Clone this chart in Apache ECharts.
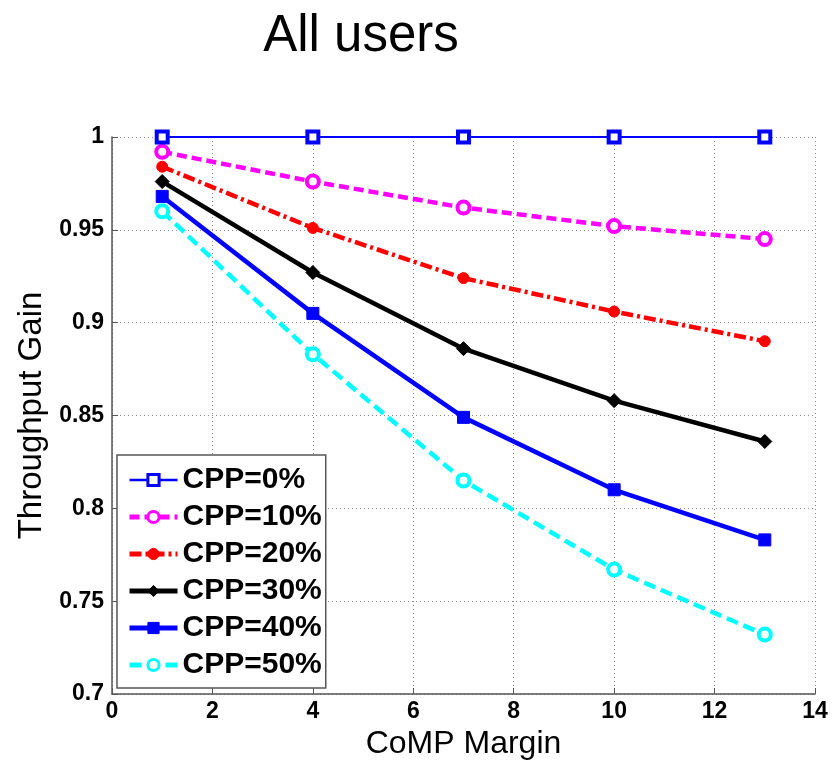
<!DOCTYPE html>
<html>
<head>
<meta charset="utf-8">
<script src="https://cdn.jsdelivr.net/npm/echarts@6/dist/echarts.min.js"></script>
<style>
  html, body { margin: 0; padding: 0; background: #fff; }
  #main { width: 832px; height: 765px; }
</style>
</head>
<body>
<div id="main"></div>
<script>
// CoMP margin values on x
var margins = [1, 4, 7, 10, 13];
var seriesNames = ['CPP=0%', 'CPP=10%', 'CPP=20%', 'CPP=30%', 'CPP=40%', 'CPP=50%'];
var cpp0  = [1.000, 1.000, 1.000, 1.000, 1.000];
var cpp10 = [0.992, 0.976, 0.962, 0.952, 0.945];
var cpp20 = [0.984, 0.951, 0.924, 0.906, 0.890];
var cpp30 = [0.976, 0.927, 0.886, 0.858, 0.836];
var cpp40 = [0.968, 0.905, 0.849, 0.810, 0.783];
var cpp50 = [0.960, 0.883, 0.815, 0.767, 0.732];

var dom = document.getElementById('main');
var myChart = echarts.init(dom);

function pairs(vals) {
    return margins.map(function (m, i) { return [m, vals[i]]; });
}

// styles per line: colour, dash, marker
var styles = [
    { color: '#0000ff', width: 2,   type: 'solid',        symbol: 'rect',    size: 11, fill: '#ffffff', bw: 4 },
    { color: '#ff00ff', width: 4.5, type: [10, 5],        symbol: 'circle',  size: 12, fill: '#ffffff', bw: 4 },
    { color: '#ff0000', width: 4.5, type: [12, 4, 3, 4],  symbol: 'circle',  size: 11, fill: '#ff0000', bw: 1 },
    { color: '#000000', width: 4.5, type: 'solid',        symbol: 'diamond', size: 14, fill: '#000000', bw: 1 },
    { color: '#0000ff', width: 4.5, type: 'solid',        symbol: 'rect',    size: 12, fill: '#0000ff', bw: 1 },
    { color: '#00ffff', width: 4.5, type: [12, 6],        symbol: 'circle',  size: 12, fill: '#ffffff', bw: 4 }
];
var allVals = [cpp0, cpp10, cpp20, cpp30, cpp40, cpp50];

var series = allVals.map(function (vals, i) {
    var s = styles[i];
    return {
        name: seriesNames[i],
        type: 'line',
        data: pairs(vals),
        symbol: s.symbol,
        symbolSize: s.size,
        showAllSymbol: true,
        lineStyle: { color: s.color, width: s.width, type: s.type },
        itemStyle: { color: s.fill, borderColor: s.color, borderWidth: s.bw },
        emphasis: { disabled: true },
        z: 10 - i
    };
});

var legendData = seriesNames.map(function (n, i) {
    var s = styles[i];
    return {
        name: n,
        lineStyle: { color: s.color, width: s.width + 0.5, type: s.type },
        itemStyle: { color: s.fill, borderColor: s.color, borderWidth: Math.min(s.bw, 3) }
    };
});

var option = {
    animation: false,
    backgroundColor: '#ffffff',
    title: {
        text: 'All users',
        left: 356,
        top: 6,
        textAlign: 'center',
        textStyle: { fontFamily: 'Liberation Sans', fontSize: 51, fontWeight: 'normal', color: '#000' }
    },
    grid: { left: 112, right: 17, top: 137, bottom: 71, outerBoundsMode: 'none', containLabel: false },
    legend: {
        orient: 'vertical',
        left: 117,
        top: 455,
        data: legendData,
        backgroundColor: '#ffffff',
        borderColor: '#555',
        borderWidth: 1.5,
        borderRadius: 0,
        padding: [10, 4, 8, 10],
        itemWidth: 48,
        itemHeight: 14,
        itemGap: 7,
        textStyle: { fontFamily: 'Liberation Sans', fontSize: 30, fontWeight: 'bold', color: '#000', lineHeight: 30 }
    },
    xAxis: {
        type: 'value',
        min: 0,
        max: 14,
        interval: 2,
        name: 'CoMP Margin',
        nameLocation: 'middle',
        nameGap: 28,
        nameTextStyle: { fontFamily: 'Liberation Sans', fontSize: 32, color: '#000' },
        axisLine: { lineStyle: { color: '#555', width: 1.5 } },
        axisTick: { inside: true, length: 6, lineStyle: { color: '#555' } },
        axisLabel: { fontFamily: 'Liberation Sans Narrow, Liberation Sans', fontSize: 23, fontWeight: 'bold', color: '#000', margin: 6 },
        splitLine: { show: true, lineStyle: { color: '#888', type: [1, 3], width: 1 } }
    },
    yAxis: {
        type: 'value',
        min: 0.7,
        max: 1,
        interval: 0.05,
        name: 'Throughput Gain',
        nameLocation: 'middle',
        nameGap: 62,
        nameTextStyle: { fontFamily: 'Liberation Sans', fontSize: 33, color: '#000' },
        axisLine: { show: true, lineStyle: { color: '#555', width: 1.5 } },
        axisTick: { show: true, inside: true, length: 6, lineStyle: { color: '#555' } },
        axisLabel: {
            fontFamily: 'Liberation Sans Narrow, Liberation Sans', fontSize: 23, fontWeight: 'bold', color: '#000', margin: 8,
            formatter: function (v) { return String(+v.toFixed(2)); }
        },
        splitLine: { show: true, lineStyle: { color: '#888', type: [1, 3], width: 1 } }
    },
    series: series
};

myChart.setOption(option);
</script>
</body>
</html>
